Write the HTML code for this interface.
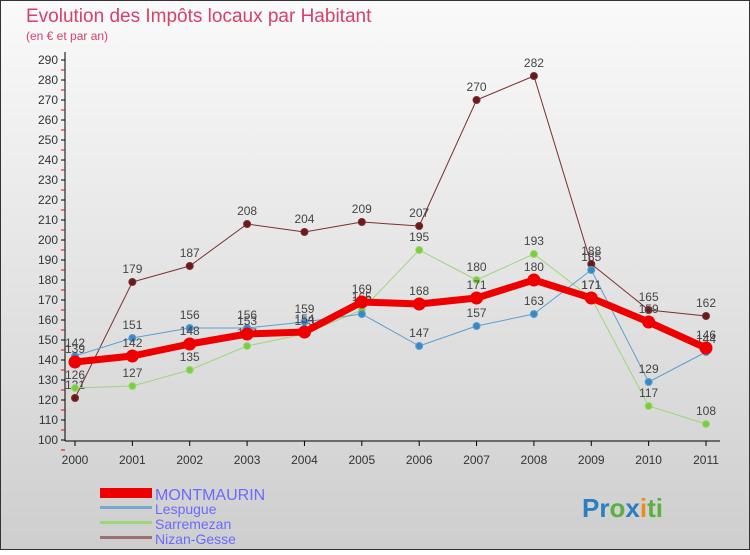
<!DOCTYPE html>
<html><head><meta charset="utf-8"><style>
body{margin:0;width:750px;height:550px;overflow:hidden;font-family:"Liberation Sans",sans-serif}
svg text{font-family:"Liberation Sans",sans-serif}
</style></head><body>
<svg id="c" width="750" height="550" xmlns="http://www.w3.org/2000/svg">
<defs><linearGradient id="bg" x1="0" y1="0" x2="0" y2="1"><stop offset="0" stop-color="#fafafa"/><stop offset="1" stop-color="#cecece"/></linearGradient></defs>
<rect x="0.5" y="0.5" width="749" height="549" fill="url(#bg)" stroke="#333"/>
<text x="26" y="22" font-size="19" fill="#d6406a">Evolution des Impôts locaux par Habitant</text>
<text x="26" y="40" font-size="12" fill="#d6406a">(en € et par an)</text>
<g id="axes"></g><g id="series"></g>
<g>
<rect x="100" y="488" width="52" height="10" fill="#e00"/>
<text x="155" y="500" font-size="16" fill="#6a6aff">MONTMAURIN</text>
<rect x="100" y="506" width="52" height="3" fill="#7aa8cc"/>
<text x="155" y="514" font-size="14" fill="#6a6aff">Lespugue</text>
<rect x="100" y="521" width="52" height="3" fill="#9ed67a"/>
<text x="155" y="529" font-size="14" fill="#6a6aff">Sarremezan</text>
<rect x="100" y="536" width="52" height="3" fill="#9a7070"/>
<text x="155" y="544" font-size="14" fill="#6a6aff">Nizan-Gesse</text>
</g>
<text x="582" y="517" font-size="26" font-weight="bold"><tspan fill="#2a7fc0">Pr</tspan><tspan fill="#5ab040">o</tspan><tspan fill="#2a7fc0">x</tspan><tspan fill="#f08a20">i</tspan><tspan fill="#5ab040">ti</tspan></text>
</svg>
<script>
const years=["2000","2001","2002","2003","2004","2005","2006","2007","2008","2009","2010","2011"];
const yTicks=[100,110,120,130,140,150,160,170,180,190,200,210,220,230,240,250,260,270,280,290];
const nizan=[121,179,187,208,204,209,207,270,282,188,165,162];
const sarremezan=[126,127,135,147,153,165,195,180,193,171,117,108];
const lespugue=[142,151,156,156,159,163,147,157,163,185,129,144];
const montmaurin=[139,142,148,153,154,169,168,171,180,171,159,146];
const NS="http://www.w3.org/2000/svg";
const X=i=>75+i*(706-75)/11;
const Y=v=>440-(v-100)*2;
function mk(t,a,p){const e=document.createElementNS(NS,t);for(const k in a)e.setAttribute(k,a[k]);p.appendChild(e);return e;}
const ax=document.getElementById('axes');
const yl=mk('line',{x1:65,y1:52,x2:65,y2:441,stroke:'#000'},ax);


const xl=mk('line',{x1:65,y1:441,x2:720,y2:441,stroke:'#000'},ax);


yTicks.forEach(v=>{
 mk('line',{x1:61,y1:Y(v),x2:65,y2:Y(v),stroke:'#000'},ax);
 mk('line',{x1:61,y1:Y(v)+10,x2:65,y2:Y(v)+10,stroke:'#e00'},ax);
 const t=mk('text',{x:58,y:Y(v)+4,'font-size':12,'text-anchor':'end',fill:'#333'},ax);
 
 
 t.textContent=v;
});
years.forEach((y,i)=>{
 mk('line',{x1:X(i),y1:441,x2:X(i),y2:446,stroke:'#000'},ax);
 const t=mk('text',{x:X(i),y:464,'font-size':12,'text-anchor':'middle',fill:'#333'},ax);
 
 
 t.textContent=y;
});
const sg=document.getElementById('series');
function series(name,d,color,dot,w,r){
 const g=mk('g',{},sg);
 
 
 const l=mk('polyline',{points:d.map((v,i)=>X(i)+','+Y(v)).join(' '),fill:'none',stroke:color,'stroke-width':w,'stroke-linejoin':'round'},g);
 
 
 d.forEach((v,i)=>{
  const c=mk('circle',{cx:X(i),cy:Y(v),r:r,fill:dot,stroke:color,'stroke-width':1},g);
  
  
  const t=mk('text',{x:X(i),y:Y(v)-9,'font-size':12,'text-anchor':'middle',fill:'#444'},g);
  
  
  t.textContent=v;
 });
}
series('nizan-gesse',nizan,'#7a3030','#6a1a1a',1,3.5);
series('sarremezan',sarremezan,'#9ed67a','#7ccc3c',1,3.5);
series('lespugue',lespugue,'#5a9fd0','#3a88c8',1,3.5);
series('montmaurin',montmaurin,'#ee0000','#ee0000',7,6);
</script>
</body></html>
